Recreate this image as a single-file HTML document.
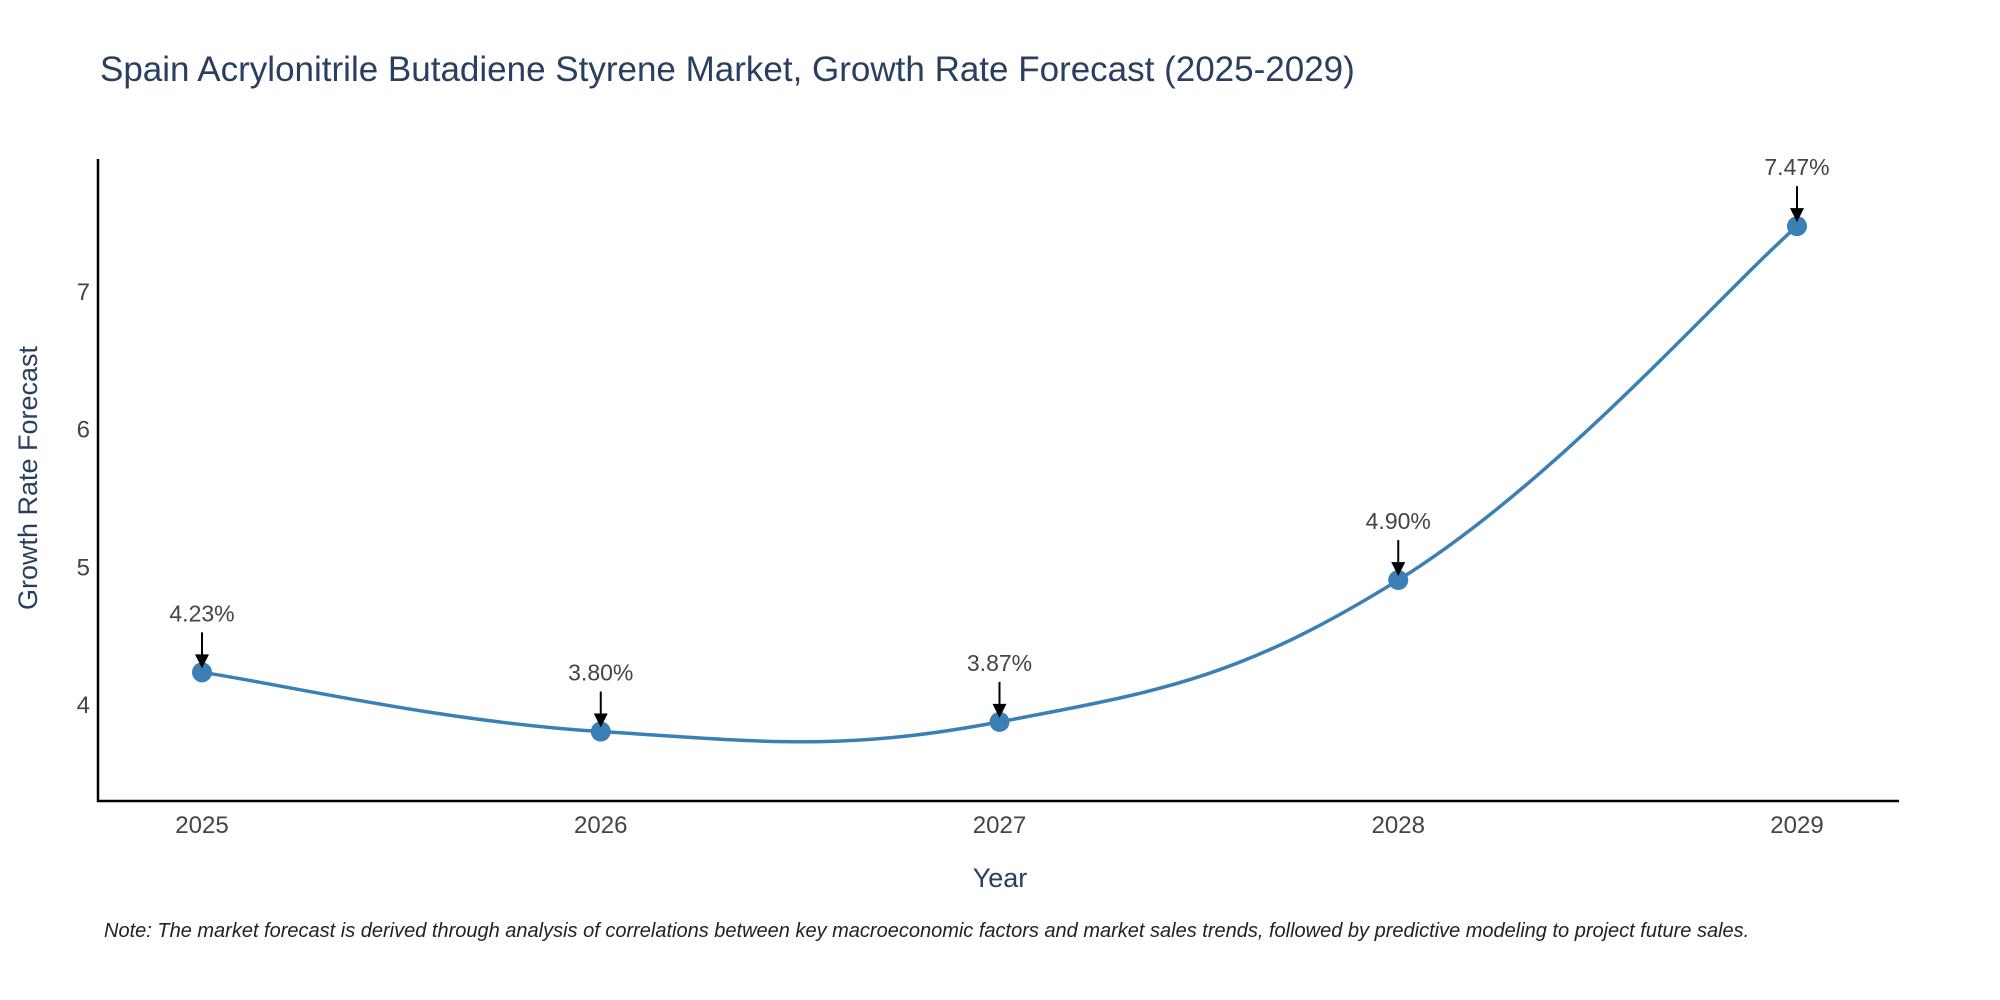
<!DOCTYPE html>
<html><head><meta charset="utf-8"><style>
body{margin:0;background:#fff;}
svg{display:block;font-family:"Liberation Sans",sans-serif;}
</style></head><body>
<svg id="chart" width="2000" height="1000">
<text x="100" y="81" font-size="35" fill="#2a3f5f">Spain Acrylonitrile Butadiene Styrene Market, Growth Rate Forecast (2025-2029)</text>
<g id="yticks"></g>
<g id="xticks"></g>
<line x1="98" y1="159" x2="98" y2="802" stroke="#000" stroke-width="2.5"/>
<line x1="97" y1="801" x2="1899" y2="801" stroke="#000" stroke-width="2.5"/>
<path id="line" fill="none" stroke="#3b80b5" stroke-width="3.5"/>
<g id="points"></g>
<text x="1000" y="887" font-size="27" fill="#2a3f5f" text-anchor="middle">Year</text>
<text transform="translate(37,478) rotate(-90)" font-size="27" fill="#2a3f5f" text-anchor="middle">Growth Rate Forecast</text>
<text x="104" y="937" font-size="20" font-style="italic" fill="#222">Note: The market forecast is derived through analysis of correlations between key macroeconomic factors and market sales trends, followed by predictive modeling to project future sales.</text>
</svg>
<script>
const years = [2025, 2026, 2027, 2028, 2029];
const rates = [4.23, 3.80, 3.87, 4.90, 7.47];
const labels = ["4.23%", "3.80%", "3.87%", "4.90%", "7.47%"];
const yTicks = [4, 5, 6, 7];
const NS = "http://www.w3.org/2000/svg";
const xS = v => 202 + (v - 2025) * 398.75;
const yS = v => 704 - (v - 4) * 137.7;
function mk(tag, attrs, parent, txt){const e=document.createElementNS(NS,tag);for(const k in attrs)e.setAttribute(k,attrs[k]);if(txt!==undefined)e.textContent=txt;parent.appendChild(e);return e;}
const yt=document.getElementById('yticks');
yTicks.forEach(t=>{const e=mk('text',{x:90,y:yS(t)+9,'font-size':24,fill:'#444','text-anchor':'end'},yt,String(t));

});
const xt=document.getElementById('xticks');
years.forEach(y=>{const e=mk('text',{x:xS(y),y:833,'font-size':24,fill:'#444','text-anchor':'middle'},xt,String(y));

});
const P=years.map((y,i)=>[xS(y),yS(rates[i])]);
let d=`M${P[0][0]},${P[0][1]}`;
for(let i=0;i<P.length-1;i++){const p0=P[Math.max(i-1,0)],p1=P[i],p2=P[i+1],p3=P[Math.min(i+2,P.length-1)];const k=1/5;
d+=` C${p1[0]+(p2[0]-p0[0])*k},${p1[1]+(p2[1]-p0[1])*k} ${p2[0]-(p3[0]-p1[0])*k},${p2[1]-(p3[1]-p1[1])*k} ${p2[0]},${p2[1]}`;}
document.getElementById('line').setAttribute('d',d);
const pg=document.getElementById('points');
P.forEach((p,i)=>{
const c=mk('circle',{cx:p[0],cy:p[1],r:10,fill:'#3b80b5'},pg);


const a=mk('line',{x1:p[0],y1:p[1]-40,x2:p[0],y2:p[1]-16,stroke:'#000','stroke-width':2},pg);


const h=mk('polygon',{points:`${p[0]-7},${p[1]-18} ${p[0]+7},${p[1]-18} ${p[0]},${p[1]-4}`,fill:'#000'},pg);


const t=mk('text',{x:p[0],y:p[1]-51,'font-size':23,fill:'#444','text-anchor':'middle'},pg,labels[i]);


});
</script>
</body></html>
